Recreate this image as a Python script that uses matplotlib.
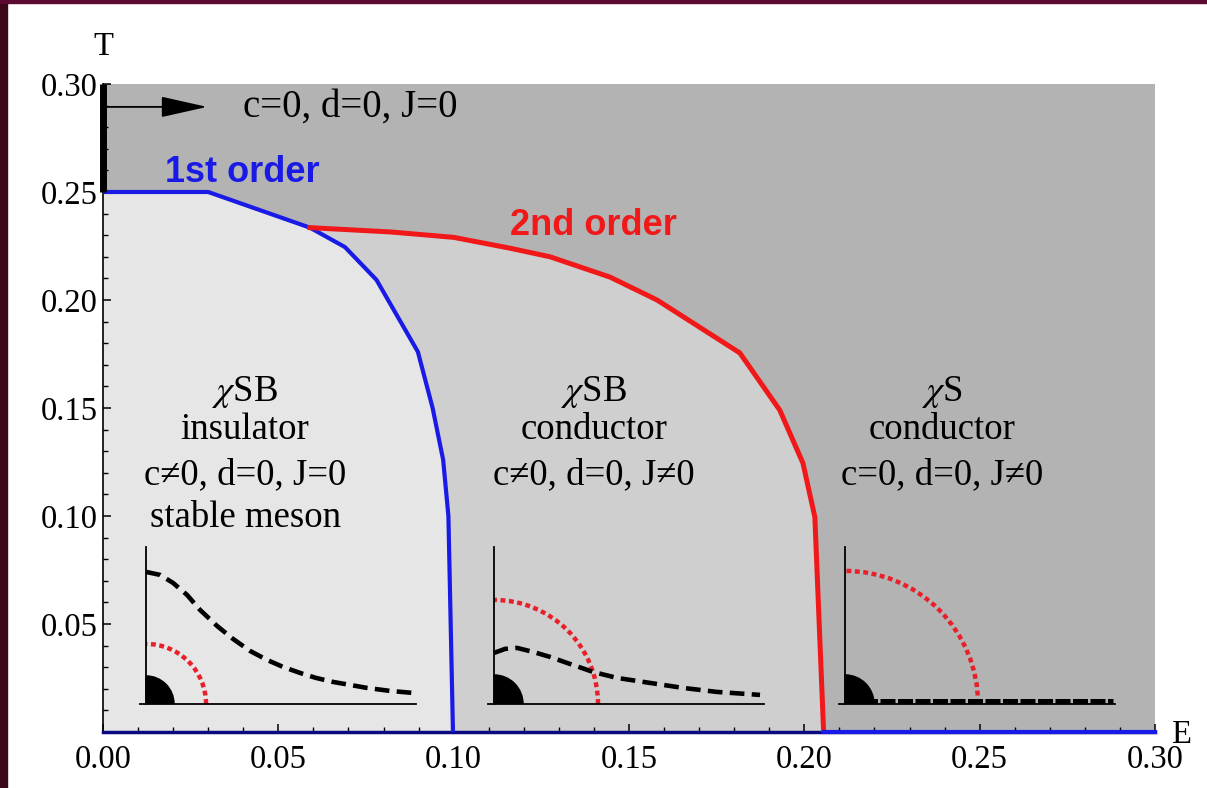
import numpy as np
import matplotlib.pyplot as plt
from matplotlib.patches import Wedge, Arc, Rectangle

plt.rcParams['font.family'] = 'serif'
plt.rcParams['font.serif'] = ['Liberation Serif', 'DejaVu Serif']
plt.rcParams['mathtext.fontset'] = 'stix'

# phase boundaries in the (E, T) plane
first_E = [0.0, 0.03, 0.059, 0.069, 0.078, 0.0898, 0.094, 0.097, 0.0985, 0.0998]
first_T = [0.25, 0.25, 0.2335, 0.2245, 0.2093, 0.176, 0.150, 0.126, 0.100, 0.0]
second_E = [0.059, 0.082, 0.100, 0.116, 0.1275, 0.1446, 0.158, 0.1816, 0.193, 0.1996, 0.203, 0.2055]
second_T = [0.2335, 0.2315, 0.229, 0.224, 0.220, 0.2106, 0.200, 0.1755, 0.149, 0.1245, 0.0995, 0.0]

# schematic potentials for each phase (arbitrary units)
core_r = [0.28, 0.29, 0.29]
ring_r = [0.60, 1.04, 1.33]
dash_x = [
    [0, 0.14, 0.27, 0.41, 0.54, 0.71, 0.87, 1.04, 1.21, 1.37, 1.54, 1.70, 1.87, 2.04, 2.21, 2.44, 2.67],
    [0, 0.11, 0.23, 0.39, 0.56, 0.73, 0.99, 1.23, 1.56, 1.89, 2.23, 2.66],
    [0, 2.68],
]
dash_y = [
    [1.32, 1.29, 1.21, 1.09, 0.94, 0.78, 0.65, 0.53, 0.44, 0.37, 0.31, 0.26, 0.22, 0.19, 0.16, 0.13, 0.11],
    [0.51, 0.55, 0.56, 0.52, 0.47, 0.41, 0.32, 0.26, 0.21, 0.16, 0.12, 0.09],
    [0.025, 0.025],
]

blue = '#1a1ae6'
red = '#f01818'

fig = plt.figure(figsize=(12.07, 7.88), dpi=100)
ax = fig.add_axes([103/1207, 56/788, 1052/1207, 648/788])
ax.set_xlim(0, 0.30)
ax.set_ylim(0, 0.30)
ax.set_facecolor('#b3b3b3')

# shaded phases
ax.fill(first_E[:3] + second_E[1:] + [0], first_T[:3] + second_T[1:] + [0],
        color='#cfcfcf', lw=0, zorder=1)
ax.fill(first_E + [0], first_T + [0], color='#e6e6e6', lw=0, zorder=1)

ax.plot(first_E, first_T, color=blue, lw=3, zorder=3)
ax.plot(second_E, second_T, color=red, lw=3.6, zorder=3)
ax.plot([second_E[-1], 0.30], [0, 0], color=blue, lw=3, zorder=4, clip_on=False)
ax.plot([0, 0], [0.25, 0.30], color='black', lw=5, zorder=4, clip_on=False,
        solid_capstyle='butt')

ax.annotate('', xy=(0.0297, 0.2894), xytext=(0.0, 0.2894),
            arrowprops=dict(arrowstyle='-|>,head_length=2.9,head_width=0.65',
                            lw=1.3, color='black', shrinkA=0, shrinkB=0,
                            mutation_scale=10))
ax.text(0.040, 0.2894, 'c=0, d=0, J=0', va='center', fontsize=28)

sans = 'Liberation Sans'
ax.text(0.0177, 0.259, '1st order', color=blue, fontsize=26, fontweight='bold',
        family=sans, va='center')
ax.text(0.116, 0.2347, '2nd order', color=red, fontsize=26, fontweight='bold',
        family=sans, va='center')

labels = [
    (0.0405, [r'$\chi$SB', 'insulator', 'c\u22600, d=0, J=0', 'stable meson']),
    (0.140, [r'$\chi$SB', 'conductor', 'c\u22600, d=0, J\u22600']),
    (0.2394, [r'$\chi$S', 'conductor', 'c=0, d=0, J\u22600']),
]
rows = [0.1574, 0.1398, 0.119, 0.099]
for xc, lines in labels:
    for yl, s in zip(rows, lines):
        ax.text(xc, yl, s, ha='center', va='center', fontsize=26.5)

# small sketches of the quark-antiquark potential in each phase
origins = [0.01226, 0.1115, 0.2116]
for i, x0 in enumerate(origins):
    ins = ax.inset_axes([x0 - 0.0017, 0.0130, 0.0787, 0.0727], transform=ax.transData)
    ins.set_xlim(-0.06, 2.70)
    ins.set_ylim(0, 1.57)
    ins.patch.set_visible(False)
    ins.spines['top'].set_visible(False)
    ins.spines['right'].set_visible(False)
    ins.spines['left'].set_position(('data', 0))
    for s in ['left', 'bottom']:
        ins.spines[s].set_linewidth(1.3)
    ins.set_xticks([])
    ins.set_yticks([])
    ins.add_patch(Wedge((0, 0), core_r[i], 0, 90, color='black'))
    ins.add_patch(Arc((0, 0), 2 * ring_r[i], 2 * ring_r[i], theta1=0, theta2=90,
                      color='#e8202a', lw=3.2, ls=(0, (1.1, 0.8))))
    lw = 3.6 if i == 2 else 3.3
    ins.plot(dash_x[i], dash_y[i], color='black', lw=lw,
             dashes=(3.2, 1.6) if i < 2 else (3, 0.5), clip_on=False)

ax.set_xticks(np.arange(0, 0.31, 0.05))
ax.set_yticks(np.arange(0.05, 0.31, 0.05))
ax.set_xticks(np.arange(0, 0.301, 0.01), minor=True)
ax.set_yticks(np.arange(0, 0.301, 0.01), minor=True)
ax.xaxis.set_major_formatter(plt.FormatStrFormatter('%.2f'))
ax.yaxis.set_major_formatter(plt.FormatStrFormatter('%.2f'))
ax.tick_params(which='major', direction='in', length=6, width=1.1, labelsize=23.5)
ax.tick_params(which='minor', direction='in', length=3.5, width=1.0)
ax.tick_params(axis='x', pad=9)
ax.tick_params(axis='y', pad=4)

ax.spines['top'].set_visible(False)
ax.spines['right'].set_visible(False)
ax.spines['left'].set_linewidth(1.2)
ax.spines['bottom'].set_color('#0a0a80')
ax.spines['bottom'].set_linewidth(2.5)

ax.text(0.0, 0.3171, 'T', ha='center', va='center', fontsize=23.5, clip_on=False)
ax.text(0.3077, -0.0012, 'E', ha='center', va='center', fontsize=23.5, clip_on=False)

# slide frame at the top and left edge
fig.patches.append(Rectangle((0, 0), 7/1207, 1, transform=fig.transFigure,
                             color='#3a0818', zorder=-1))
fig.patches.append(Rectangle((0, 1 - 3/788), 1, 3/788, transform=fig.transFigure,
                             color='#5c0a30', zorder=-1))

fig.savefig('out.png', dpi=100)
